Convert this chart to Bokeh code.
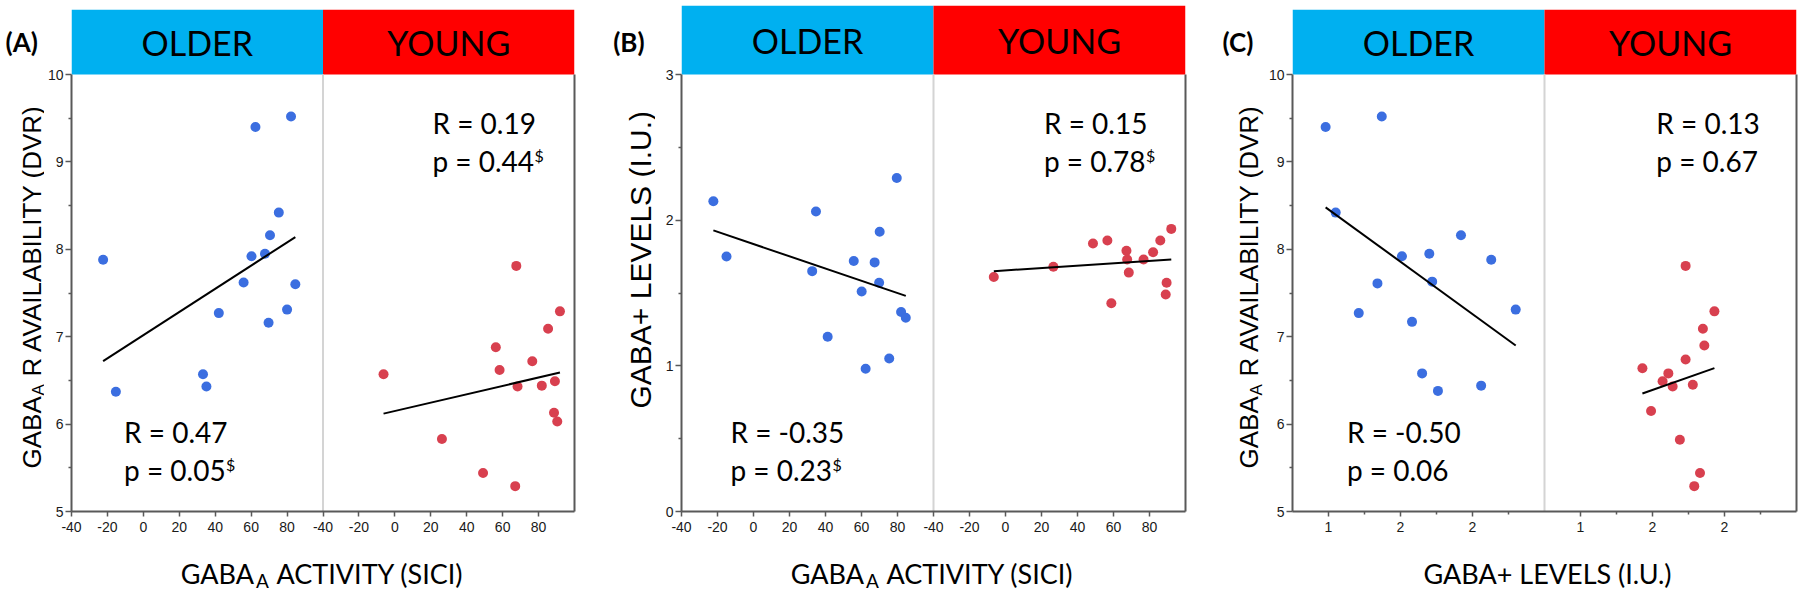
import math
from bokeh.plotting import figure
from bokeh.models import (Range1d, LinearAxis, FixedTicker, Label,
                          ColumnDataSource, CustomJSTickFormatter)
from bokeh.layouts import row, column
from bokeh.embed import file_html
from bokeh.resources import INLINE
from bokeh.core.properties import value

# ---------------- data ----------------
GROUPS = ["OLDER", "YOUNG"]
HEADER_COLORS = ["#00B0F0", "#FF0000"]
POINT_COLORS = ["#3B6EE0", "#D8404F"]

# Panel A : GABA_A activity (SICI) vs GABA_A R availability (DVR)
A_OLDER_SICI = [-22.4, 62.4, 82.2, 75.4, 70.5, 60.2, 67.7, 55.8, 84.6, 42.0, 80.0, 69.7, -15.3, 33.2, 35.1]
A_OLDER_DVR = [7.88, 9.40, 9.52, 8.42, 8.16, 7.92, 7.95, 7.62, 7.60, 7.27, 7.31, 7.16, 6.37, 6.57, 6.43]
A_YOUNG_SICI = [67.6, 91.9, 85.3, 56.2, 76.5, 58.3, -6.3, 89.1, 68.3, 81.8, 88.6, 90.4, 26.2, 49.1, 67.0]
A_YOUNG_DVR = [7.81, 7.29, 7.09, 6.88, 6.72, 6.62, 6.57, 6.49, 6.43, 6.44, 6.13, 6.03, 5.83, 5.44, 5.29]
A_OLDER_FIT_X = [-22.4, 84.6]
A_OLDER_FIT_Y = [6.72, 8.14]
A_YOUNG_FIT_X = [-6.3, 91.9]
A_YOUNG_FIT_Y = [6.12, 6.59]
A_R = ["R = 0.47", "R = 0.19"]
A_P = ["p = 0.05", "p = 0.44"]
A_SUP = ["$", "$"]

# Panel B : GABA_A activity (SICI) vs GABA+ levels (I.U.)
B_OLDER_SICI = [-22.3, -15.0, 34.7, 79.6, 70.1, 55.7, 67.3, 32.6, 69.8, 60.1, 82.0, 84.6, 41.2, 75.4, 62.3]
B_OLDER_GABA = [2.13, 1.75, 2.06, 2.29, 1.92, 1.72, 1.71, 1.65, 1.57, 1.51, 1.37, 1.33, 1.20, 1.05, 0.98]
B_YOUNG_SICI = [-6.5, 26.6, 48.6, 56.6, 67.2, 67.6, 68.5, 76.7, 82.0, 86.0, 92.1, 89.5, 89.0, 58.8]
B_YOUNG_GABA = [1.61, 1.68, 1.84, 1.86, 1.79, 1.73, 1.64, 1.73, 1.78, 1.86, 1.94, 1.57, 1.49, 1.43]
B_OLDER_FIT_X = [-22.3, 84.6]
B_OLDER_FIT_Y = [1.93, 1.48]
B_YOUNG_FIT_X = [-6.5, 92.1]
B_YOUNG_FIT_Y = [1.65, 1.73]
B_R = ["R = -0.35", "R = 0.15"]
B_P = ["p = 0.23", "p = 0.78"]
B_SUP = ["$", "$"]

# Panel C : GABA+ levels (I.U.) vs GABA_A R availability (DVR)
C_OLDER_GABA = [0.98, 1.37, 1.05, 1.92, 1.51, 1.70, 2.13, 1.34, 1.72, 1.21, 1.58, 2.30, 1.65, 1.76, 2.06]
C_OLDER_DVR = [9.40, 9.52, 8.42, 8.16, 7.92, 7.95, 7.88, 7.61, 7.63, 7.27, 7.17, 7.31, 6.58, 6.38, 6.44]
C_YOUNG_GABA = [1.73, 1.93, 1.85, 1.86, 1.73, 1.43, 1.61, 1.57, 1.64, 1.78, 1.49, 1.69, 1.83, 1.79]
C_YOUNG_DVR = [7.81, 7.29, 7.09, 6.90, 6.74, 6.64, 6.58, 6.49, 6.43, 6.45, 6.15, 5.82, 5.44, 5.29]
C_OLDER_FIT_X = [0.98, 2.30]
C_OLDER_FIT_Y = [8.48, 6.90]
C_YOUNG_FIT_X = [1.43, 1.93]
C_YOUNG_FIT_Y = [6.35, 6.64]
C_R = ["R = -0.50", "R = 0.13"]
C_P = ["p = 0.06", "p = 0.67"]
C_SUP = ["", ""]

# axes
SICI_LIM = [-40, 100]
SICI_TICKS = [-40, -20, 0, 20, 40, 60, 80]
SICI_TICK_LABELS = ["-40", "-20", "0", "20", "40", "60", "80"]
SICI_MINOR = []
GABA_LIM = [0.75, 2.5]
GABA_TICKS = [1.0, 1.5, 2.0]
GABA_TICK_LABELS = ["1", "2", "2"]
GABA_MINOR = [1.25, 1.75, 2.25]
DVR_LIM = [5, 10]
DVR_TICKS = [5, 6, 7, 8, 9, 10]
DVR_TICK_LABELS = ["5", "6", "7", "8", "9", "10"]
DVR_MINOR = [5.5, 6.5, 7.5, 8.5, 9.5]
LEV_LIM = [0, 3]
LEV_TICKS = [0, 1, 2, 3]
LEV_TICK_LABELS = ["0", "1", "2", "3"]
LEV_MINOR = [0.5, 1.5, 2.5]

# ---------------- style ----------------
AXIS_COLOR = "#595959"
DIVIDER_COLOR = "#d4d4d4"
TICK_FONT = "Liberation Sans"
TEXT_FONT = "Lato"
PLOT_PX = 437      # pixel height of the data area (below the header band)
MAIN_H = 541       # height of the plotting figures
BOTTOM_H = 47      # height of the x-label strip
AXIS_BORDER = 26   # room for the y tick labels
TOTAL_H = MAIN_H + BOTTOM_H
LIFT = 0.2         # baseline correction, fraction of the font size


def tick_formatter(vals, labs):
    return CustomJSTickFormatter(args=dict(vals=vals, labs=labs), code="""
        for (let i = 0; i < vals.length; i++) {
            if (Math.abs(vals[i] - tick) < 1e-6) { return labs[i]; }
        }
        return "";
    """)


def add_label(p, text, sx, sy, size, align="left", rotated=False, bold=False, font=TEXT_FONT):
    if rotated:
        sx -= LIFT * size
    else:
        sy += LIFT * size
    p.add_layout(Label(x=sx, y=sy, x_units="screen", y_units="screen", text=text,
                       text_font=font, text_font_size=f"{size}px",
                       text_font_style="bold" if bold else "normal",
                       text_color="black", text_align=align,
                       text_baseline="alphabetic",
                       angle=math.pi / 2 if rotated else 0.0, angle_units="rad"))


def text_strip(w, h, bl=0, br=0, bt=0, bb=0):
    s = figure(width=w, height=h, x_range=Range1d(0, 1), y_range=Range1d(0, 1),
               output_backend="svg", toolbar_location=None,
               x_axis_location=None, y_axis_location=None,
               min_border_left=bl, min_border_right=br,
               min_border_top=bt, min_border_bottom=bb)
    s.title.visible = False
    s.outline_line_color = None
    s.xgrid.visible = False
    s.ygrid.visible = False
    return s


def build_panel(letter, older, young, xlim, ylim, xt, yt, r_txt, p_txt, sup_txt,
                ylab_parts, xlab_parts, lay):
    xmin, xmax = xlim
    ymin, ymax = ylim
    span = xmax - xmin
    fw, fh, bt, br = lay["fw"], lay["fh"], lay["bt"], lay["br"]
    bb = MAIN_H - bt - fh
    y_top = ymax + (ymax - ymin) * (fh - PLOT_PX) / PLOT_PX

    p = figure(frame_width=fw, frame_height=fh,
               x_range=Range1d(xmin, xmin + 2 * span),
               y_range=Range1d(ymin, y_top),
               output_backend="svg", toolbar_location=None,
               min_border_left=AXIS_BORDER, min_border_right=br,
               min_border_top=bt, min_border_bottom=bb)
    p.extra_x_ranges = {"young": Range1d(xmin - span, xmax)}
    p.title.visible = False
    p.outline_line_color = None
    p.xgrid.visible = False
    p.ygrid.visible = False

    # bottom axis (older ticks + young ticks shifted into main coordinates)
    ticks, labels, minor = xt
    all_ticks = list(ticks) + [t + span for t in ticks]
    all_labels = list(labels) + list(labels)
    all_minor = list(minor) + [t + span for t in minor]
    xa = p.xaxis[0]
    xa.ticker = FixedTicker(ticks=all_ticks, minor_ticks=all_minor)
    xa.formatter = tick_formatter(all_ticks, all_labels)
    ya = p.yaxis[0]
    yticks, ylabels, yminor = yt
    ya.bounds = (ymin, ymax)
    ya.ticker = FixedTicker(ticks=yticks, minor_ticks=yminor)
    ya.formatter = tick_formatter(yticks, ylabels)
    for ax, tout in ((xa, 5), (ya, 6)):
        ax.axis_line_color = AXIS_COLOR
        ax.axis_line_width = 2
        ax.major_tick_line_color = AXIS_COLOR
        ax.major_tick_line_width = 1.5
        ax.minor_tick_line_color = AXIS_COLOR
        ax.minor_tick_line_width = 1.5
        ax.major_tick_in = 0
        ax.major_tick_out = tout
        ax.minor_tick_in = 0
        ax.minor_tick_out = 3
        ax.major_label_text_font = TICK_FONT
        ax.major_label_text_font_size = "14px"
        ax.major_label_text_color = "#1a1a1a"
    xa.major_label_standoff = 5
    ya.major_label_standoff = 2

    # right frame edge
    ra = LinearAxis(bounds=(ymin, ymax), ticker=FixedTicker(ticks=[]),
                    axis_line_color=AXIS_COLOR, axis_line_width=2,
                    major_tick_line_color=None, minor_tick_line_color=None,
                    major_tick_out=0, minor_tick_out=0, major_label_standoff=0,
                    major_label_text_font_size="0px")
    p.add_layout(ra, "right")

    # header bands
    for gi, rng in enumerate(["default", "young"]):
        p.quad(left=[xmin], right=[xmax], bottom=[ymax], top=[y_top],
               fill_color=HEADER_COLORS[gi], line_color=None, x_range_name=rng)
        p.text(x=[(xmin + xmax) / 2], y=[(ymax + y_top) / 2], text=[GROUPS[gi]],
               text_font=value(TEXT_FONT), text_font_size="34px",
               text_align="center", text_baseline="middle", text_color="black",
               x_range_name=rng)

    # divider between groups
    p.segment(x0=[xmax], y0=[ymin], x1=[xmax], y1=[ymax],
              line_color=DIVIDER_COLOR, line_width=2)

    # data
    for gi, (rng, grp) in enumerate([("default", older), ("young", young)]):
        gx, gy, fx, fy = grp
        src = ColumnDataSource(dict(x=gx, y=gy))
        p.scatter("x", "y", source=src, size=10, fill_color=POINT_COLORS[gi],
                  line_color=None, x_range_name=rng)
        p.line(fx, fy, line_color="black", line_width=2, x_range_name=rng)

    # statistics text
    for gi, (sx, sy_r, sy_p) in enumerate([(lay["old_sx"], 74.3, 36),
                                           (lay["young_sx"], 382.7, 345.3)]):
        add_label(p, r_txt[gi], sx, sy_r, 28)
        add_label(p, p_txt[gi], sx, sy_p, 28)
        if sup_txt[gi]:
            add_label(p, sup_txt[gi], sx + 102, sy_p + 8, 16)

    # left strip (frame aligned with the plot frame): panel letter + y label
    left = text_strip(lay["strip_w"], TOTAL_H, bt=bt, bb=TOTAL_H - bt - fh)
    add_label(left, letter, lay["letter_sx"], 464.3, 26, bold=True)
    for text, size, shift, along in ylab_parts:
        add_label(left, text, lay["ylab_sx"] + shift, lay["ylab_sy"] + along, size,
                  rotated=True, font=TICK_FONT)

    # bottom strip (frame aligned horizontally with the plot frame): x label
    bottom = text_strip(AXIS_BORDER + fw + br, BOTTOM_H, bl=AXIS_BORDER, br=br)
    for text, size, shift, sx, align in xlab_parts:
        add_label(bottom, text, sx, 10 + shift, size, align=align)

    return row(left, column(p, bottom, spacing=0), spacing=0)


DVR_LABEL = [("GABA", 26, 0, 0), ("A", 17, 5, 73), ("R AVAILABILITY (DVR)", 26, 0, 92)]
LEV_LABEL = [("GABA+ LEVELS (I.U.)", 30, 0, 0)]
SICI_XLABEL = [("GABA", 27, 0, 182.5, "right"), ("A", 19, -6, 184.5, "left"),
               ("ACTIVITY (SICI)", 27, 0, 205, "left")]
LEV_XLABEL = [("GABA+ LEVELS (I.U.)", 27, 0, 255, "center")]

pA = build_panel("(A)",
                 (A_OLDER_SICI, A_OLDER_DVR, A_OLDER_FIT_X, A_OLDER_FIT_Y),
                 (A_YOUNG_SICI, A_YOUNG_DVR, A_YOUNG_FIT_X, A_YOUNG_FIT_Y),
                 SICI_LIM, DVR_LIM,
                 (SICI_TICKS, SICI_TICK_LABELS, SICI_MINOR),
                 (DVR_TICKS, DVR_TICK_LABELS, DVR_MINOR),
                 A_R, A_P, A_SUP, DVR_LABEL, SICI_XLABEL,
                 dict(strip_w=44, fw=503, fh=502, br=27, bt=9,
                      old_sx=52.6, young_sx=361, letter_sx=5,
                      ylab_sx=36.5, ylab_sy=43))

pB = build_panel("(B)",
                 (B_OLDER_SICI, B_OLDER_GABA, B_OLDER_FIT_X, B_OLDER_FIT_Y),
                 (B_YOUNG_SICI, B_YOUNG_GABA, B_YOUNG_FIT_X, B_YOUNG_FIT_Y),
                 SICI_LIM, LEV_LIM,
                 (SICI_TICKS, SICI_TICK_LABELS, SICI_MINOR),
                 (LEV_TICKS, LEV_TICK_LABELS, LEV_MINOR),
                 B_R, B_P, B_SUP, LEV_LABEL, SICI_XLABEL,
                 dict(strip_w=54, fw=504, fh=506, br=16, bt=5,
                      old_sx=49, young_sx=362.5, letter_sx=11.7,
                      ylab_sx=45, ylab_sy=103))

pC = build_panel("(C)",
                 (C_OLDER_GABA, C_OLDER_DVR, C_OLDER_FIT_X, C_OLDER_FIT_Y),
                 (C_YOUNG_GABA, C_YOUNG_DVR, C_YOUNG_FIT_X, C_YOUNG_FIT_Y),
                 GABA_LIM, DVR_LIM,
                 (GABA_TICKS, GABA_TICK_LABELS, GABA_MINOR),
                 (DVR_TICKS, DVR_TICK_LABELS, DVR_MINOR),
                 C_R, C_P, C_SUP, DVR_LABEL, LEV_XLABEL,
                 dict(strip_w=64, fw=504, fh=502, br=2, bt=9,
                      old_sx=54.5, young_sx=363.8, letter_sx=21,
                      ylab_sx=53, ylab_sy=43))

layout = row(pA, pB, pC, spacing=0)
open("out.html", "w").write(file_html(layout, INLINE))
